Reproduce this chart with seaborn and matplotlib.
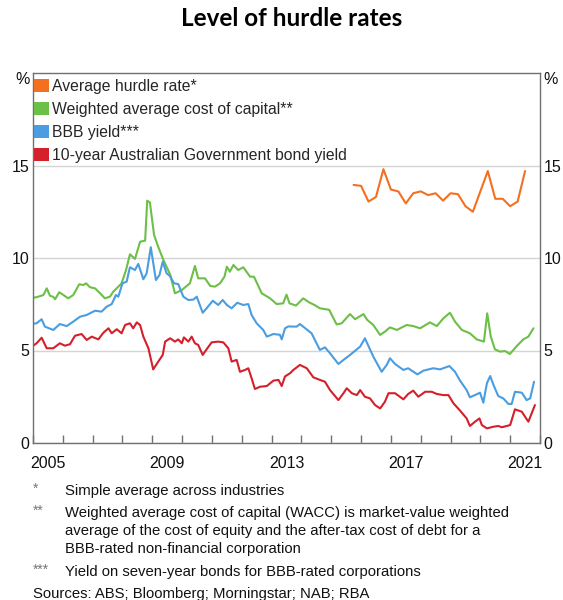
import numpy as np
import pandas as pd
import matplotlib
matplotlib.use("Agg")
import matplotlib.pyplot as plt
from matplotlib.patches import Patch
import seaborn as sns

# Average hurdle rate (quarterly survey)
hurdle_years = [2015.75, 2016.0, 2016.25, 2016.5, 2016.75, 2017.0, 2017.25, 2017.5,
                2017.75, 2018.0, 2018.25, 2018.5, 2018.75, 2019.0, 2019.25, 2019.5,
                2019.75, 2020.0, 2020.25, 2020.5, 2020.75, 2021.0, 2021.25, 2021.5]
hurdle_vals = [13.95, 13.9, 13.05, 13.3, 14.8, 13.7, 13.6, 12.95,
               13.5, 13.6, 13.4, 13.5, 13.1, 13.5, 13.45, 12.8,
               12.5, 13.6, 14.7, 13.2, 13.2, 12.8, 13.05, 14.7]

# Weighted average cost of capital
wacc_years = [2005.0, 2005.12, 2005.35, 2005.46, 2005.57, 2005.68, 2005.74, 2005.88, 2006.02,
              2006.18, 2006.35, 2006.55, 2006.69, 2006.78, 2006.91, 2007.08, 2007.25, 2007.41,
              2007.58, 2007.69, 2007.83, 2007.97, 2008.12, 2008.25, 2008.42, 2008.59, 2008.76,
              2008.83, 2008.92, 2009.06, 2009.2, 2009.37, 2009.6, 2009.76, 2009.99, 2010.26,
              2010.43, 2010.54, 2010.77, 2010.94, 2011.1, 2011.27, 2011.42, 2011.5, 2011.6,
              2011.72, 2011.88, 2012.05, 2012.28, 2012.41, 2012.67, 2012.95, 2013.17, 2013.39,
              2013.5, 2013.6, 2013.82, 2014.06, 2014.26, 2014.45, 2014.62, 2014.93, 2015.18,
              2015.35, 2015.63, 2015.8, 2016.08, 2016.21, 2016.41, 2016.64, 2016.8, 2016.97,
              2017.2, 2017.53, 2017.75, 2017.98, 2018.31, 2018.54, 2018.76, 2018.98, 2019.15,
              2019.38, 2019.65, 2019.88, 2020.12, 2020.23, 2020.35, 2020.49, 2020.66, 2020.83,
              2020.99, 2021.22, 2021.44, 2021.61, 2021.78]
wacc_vals = [7.85, 7.88, 8.0, 8.36, 7.96, 7.9, 7.77, 8.15, 8.0,
             7.82, 8.0, 8.58, 8.54, 8.63, 8.42, 8.36, 8.09, 7.82,
             7.91, 8.18, 8.4, 8.63, 9.35, 10.2, 9.95, 10.88, 10.94,
             13.1, 13.0, 11.24, 10.6, 9.9, 9.1, 8.09, 8.27, 8.63,
             9.57, 8.9, 8.9, 8.49, 8.45, 8.63, 8.99, 9.53, 9.26,
             9.62, 9.35, 9.5, 8.99, 8.99, 8.09, 7.82, 7.51, 7.55,
             8.02, 7.55, 7.43, 7.82, 7.6, 7.45, 7.28, 7.2, 6.41,
             6.47, 6.97, 6.69, 6.97, 6.65, 6.38, 5.84, 6.02, 6.25,
             6.11, 6.38, 6.32, 6.2, 6.52, 6.32, 6.74, 7.04, 6.56,
             6.11, 5.93, 5.6, 5.48, 7.01, 5.75, 5.06, 4.94, 4.97,
             4.81, 5.24, 5.6, 5.75, 6.2]

# BBB corporate bond yield
bbb_years = [2005.0, 2005.12, 2005.29, 2005.4, 2005.68, 2005.9, 2006.13, 2006.35, 2006.58,
             2006.8, 2007.08, 2007.3, 2007.47, 2007.64, 2007.78, 2007.86, 2008.0, 2008.14,
             2008.25, 2008.42, 2008.53, 2008.7, 2008.81, 2008.95, 2009.12, 2009.24, 2009.35,
             2009.48, 2009.59, 2009.73, 2009.87, 2010.04, 2010.21, 2010.38, 2010.49, 2010.69,
             2010.82, 2011.03, 2011.21, 2011.36, 2011.5, 2011.66, 2011.85, 2012.05, 2012.22,
             2012.33, 2012.5, 2012.72, 2012.84, 2013.06, 2013.28, 2013.34, 2013.45, 2013.56,
             2013.84, 2013.95, 2014.06, 2014.34, 2014.62, 2014.79, 2014.96, 2015.24, 2015.41,
             2015.63, 2015.97, 2016.13, 2016.41, 2016.69, 2016.86, 2016.97, 2017.14, 2017.42,
             2017.58, 2017.89, 2018.09, 2018.42, 2018.65, 2018.96, 2019.15, 2019.32, 2019.54,
             2019.65, 2019.82, 2019.99, 2020.1, 2020.22, 2020.33, 2020.44, 2020.6, 2020.77,
             2020.94, 2021.05, 2021.16, 2021.39, 2021.55, 2021.67, 2021.8]
bbb_vals = [6.45, 6.47, 6.69, 6.29, 6.11, 6.43, 6.32, 6.56, 6.83,
            6.92, 7.15, 7.1, 7.37, 7.51, 8.0, 7.91, 8.63, 8.72,
            9.5, 9.35, 9.68, 8.85, 9.17, 10.58, 8.81, 9.08, 9.8,
            9.17, 9.03, 8.63, 8.59, 7.91, 7.73, 7.75, 7.91, 7.04,
            7.28, 7.69, 7.46, 7.73, 7.46, 7.28, 7.58, 7.46, 7.51,
            6.92, 6.47, 6.11, 5.75, 5.89, 5.85, 5.6, 6.2, 6.3,
            6.29, 6.43, 6.29, 5.93, 5.03, 5.17, 4.85, 4.27, 4.49,
            4.76, 5.21, 5.66, 4.67, 3.85, 4.22, 4.58, 4.27, 3.95,
            4.04, 3.71, 3.91, 4.04, 3.98, 4.16, 3.85, 3.37, 2.86,
            2.47, 2.59, 2.72, 2.18, 3.23, 3.62, 3.14, 2.54, 2.41,
            2.11, 2.11, 2.77, 2.72, 2.32, 2.41, 3.31]

# 10-year Australian Government bond yield
bond_years = [2005.0, 2005.12, 2005.29, 2005.46, 2005.68, 2005.9, 2006.07, 2006.24, 2006.41,
              2006.63, 2006.8, 2006.97, 2007.19, 2007.36, 2007.53, 2007.64, 2007.81, 2007.97,
              2008.09, 2008.25, 2008.36, 2008.48, 2008.59, 2008.7, 2008.87, 2009.03, 2009.2,
              2009.35, 2009.43, 2009.6, 2009.76, 2009.87, 2009.99, 2010.06, 2010.21, 2010.32,
              2010.43, 2010.54, 2010.69, 2010.82, 2010.99, 2011.21, 2011.38, 2011.55, 2011.66,
              2011.83, 2011.94, 2012.11, 2012.22, 2012.33, 2012.44, 2012.61, 2012.84, 2013.06,
              2013.23, 2013.34, 2013.45, 2013.62, 2013.73, 2013.95, 2014.18, 2014.4, 2014.62,
              2014.79, 2014.96, 2015.24, 2015.41, 2015.52, 2015.69, 2015.86, 2015.97, 2016.13,
              2016.3, 2016.47, 2016.64, 2016.8, 2016.92, 2017.14, 2017.42, 2017.58, 2017.75,
              2017.92, 2018.15, 2018.37, 2018.54, 2018.76, 2018.93, 2019.1, 2019.32, 2019.54,
              2019.65, 2019.82, 2019.97, 2020.05, 2020.22, 2020.44, 2020.6, 2020.72, 2021.0,
              2021.16, 2021.39, 2021.61, 2021.83]
bond_vals = [5.25, 5.39, 5.69, 5.12, 5.12, 5.39, 5.26, 5.34, 5.8,
             5.89, 5.57, 5.75, 5.6, 5.96, 6.2, 5.93, 6.15, 5.93,
             6.38, 6.47, 6.2, 6.52, 6.38, 5.75, 5.12, 3.98, 4.4,
             4.76, 5.48, 5.66, 5.48, 5.6, 5.39, 5.71, 5.48, 5.75,
             5.39, 5.3, 4.76, 5.06, 5.44, 5.48, 5.44, 5.12, 4.4,
             4.49, 3.85, 3.95, 4.04, 3.5, 2.92, 3.04, 3.08, 3.37,
             3.41, 3.08, 3.6, 3.77, 3.95, 4.22, 4.04, 3.55, 3.41,
             3.31, 2.86, 2.32, 2.69, 2.96, 2.69, 2.59, 2.86, 2.5,
             2.41, 2.05, 1.87, 2.23, 2.69, 2.69, 2.36, 2.65, 2.83,
             2.5, 2.77, 2.77, 2.65, 2.59, 2.59, 2.14, 1.75, 1.33,
             0.92, 1.15, 1.33, 0.97, 0.79, 0.88, 0.92, 0.85, 0.97,
             1.82, 1.69, 1.15, 2.05]

series_names = ["Average hurdle rate*",
                "Weighted average cost of capital**",
                "BBB yield***",
                "10-year Australian Government bond yield"]
series_colors = ["#F37021", "#6CBF47", "#4A9DE0", "#D4202A"]

year_labels = ["2005", "2009", "2013", "2017", "2021"]
y_ticks = [0, 5, 10, 15]

footnotes = [
    ("*", ["Simple average across industries"]),
    ("**", ["Weighted average cost of capital (WACC) is market-value weighted",
            "average of the cost of equity and the after-tax cost of debt for a",
            "BBB-rated non-financial corporation"]),
    ("***", ["Yield on seven-year bonds for BBB-rated corporations"]),
]
sources = "Sources: ABS; Bloomberg; Morningstar; NAB; RBA"

frames = []
for name, yrs, vals in zip(series_names,
                           [hurdle_years, wacc_years, bbb_years, bond_years],
                           [hurdle_vals, wacc_vals, bbb_vals, bond_vals]):
    frames.append(pd.DataFrame({"year": yrs, "rate": vals, "series": name}))
df = pd.concat(frames, ignore_index=True)

sns.set_theme(style="white")
plt.rcParams["font.family"] = ["Liberation Sans", "DejaVu Sans"]

W, H = 563, 600
fig = plt.figure(figsize=(W / 100, H / 100), dpi=100)
fig.patch.set_facecolor("white")
ax_l, ax_r, ax_t, ax_b = 33, 540, 73, 443
ax = fig.add_axes([ax_l / W, 1 - ax_b / H, (ax_r - ax_l) / W, (ax_b - ax_t) / H])

sns.lineplot(data=df, x="year", y="rate", hue="series", hue_order=series_names,
             palette=series_colors, estimator=None, sort=True, linewidth=1.5,
             legend=False, ax=ax)

ax.set_xlim(2005, 2022)
ax.set_ylim(0, 20)
ax.set_xlabel("")
ax.set_ylabel("")

spine_color = "#707070"
for sp in ax.spines.values():
    sp.set_visible(True)
    sp.set_color(spine_color)
    sp.set_linewidth(1.0)

# horizontal reference lines
ax.set_yticks(y_ticks)
ax.set_yticklabels([str(v) for v in y_ticks])
ax.yaxis.grid(True, color="#d4d4d4", linewidth=1.0)
ax.xaxis.grid(False)
ax.set_axisbelow(True)
ax.tick_params(axis="y", which="both", left=False, right=False, length=0,
               labelleft=True, labelright=True, pad=2.5, labelsize=11.5,
               labelcolor="#111111")

# year boundaries as inward ticks, labels centred on each year
ax.set_xticks(np.arange(2005, 2023, 1))
ax.set_xticklabels([])
ax.set_xticks([int(y) + 0.5 for y in year_labels], minor=True)
ax.set_xticklabels(year_labels, minor=True)
ax.tick_params(axis="x", which="major", direction="in", length=5.5, width=1.0,
               color=spine_color, bottom=True, top=False)
ax.tick_params(axis="x", which="minor", length=0, pad=9, labelsize=11.5,
               labelcolor="#111111")

fig.text(30 / W, 1 - 79 / H, "%", ha="right", va="center", fontsize=11.5, color="#111111")
fig.text(543 / W, 1 - 79 / H, "%", ha="left", va="center", fontsize=11.5, color="#111111")

handles = [Patch(facecolor=c, edgecolor="none") for c in series_colors]
ax.legend(handles, series_names, loc="upper left", bbox_to_anchor=(-0.008, 0.997),
          frameon=False, fontsize=11.3, handlelength=0.95, handleheight=0.95,
          handletextpad=0.25, labelspacing=0.5, borderaxespad=0.0, borderpad=0.3)

fig.text(292 / W, 1 - 19 / H, "Level of hurdle rates", ha="center", va="center",
         fontsize=17.5, fontweight="bold", family=["Lato", "DejaVu Sans"], color="#000000")

line_y = [491, 513, 531, 549, 572]
i = 0
for mark, lines in footnotes:
    fig.text(33 / W, 1 - (line_y[i] - 2) / H, mark, ha="left", va="center",
             fontsize=10, color="#777777")
    for ln in lines:
        fig.text(65 / W, 1 - line_y[i] / H, ln, ha="left", va="center",
                 fontsize=10.7, color="#111111")
        i += 1
fig.text(33 / W, 1 - 594 / H, sources, ha="left", va="center", fontsize=10.7,
         color="#111111")

fig.savefig("out.png", dpi=100, facecolor="white")
